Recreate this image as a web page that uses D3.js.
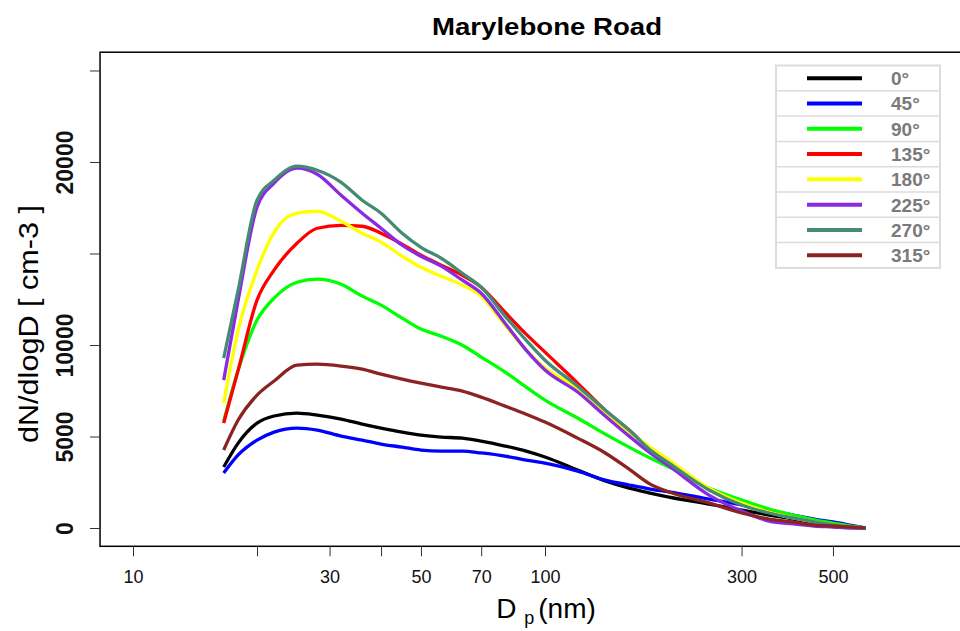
<!DOCTYPE html>
<html>
<head>
<meta charset="utf-8">
<script src="https://cdn.jsdelivr.net/npm/d3@7"></script>
<style>
body { margin: 0; background: #fff; }
svg { font-family: "Liberation Sans", Arial, sans-serif; }
</style>
</head>
<body>
<svg id="chart" width="960" height="631"></svg>
<script>
// particle diameter bins (nm)
const diameters = [16.6, 18, 20, 22, 25, 28, 32, 36, 40, 45, 50, 56, 63, 70, 80, 90, 100,
  120, 140, 160, 180, 200, 250, 300, 350, 400, 450, 500, 550, 600];

// dN/dlogD per wind direction
const dir0 = [3330, 4640, 5730, 6120, 6280, 6170, 5950, 5680, 5460, 5240, 5080, 4970, 4910, 4750,
  4480, 4200, 3880, 3170, 2570, 2180, 1910, 1690, 1310, 980, 710, 490, 270, 160, 55, 0];
const dir45 = [3000, 3990, 4800, 5240, 5460, 5350, 5020, 4800, 4590, 4420, 4260, 4200, 4200, 4100,
  3930, 3710, 3550, 3110, 2620, 2350, 2130, 1970, 1580, 1260, 930, 710, 490, 330, 160, 0];
const dir90 = [5840, 8630, 11360, 12560, 13430, 13600, 13320, 12670, 12180, 11470, 10870, 10480,
  9990, 9340, 8520, 7700, 6990, 6010, 5130, 4420, 3820, 3330, 2180, 1530, 1040, 710, 440, 270, 110, 0];
const dir135 = [5730, 8630, 12450, 14090, 15560, 16380, 16540, 16490, 16110, 15510, 14910, 14360,
  13810, 13160, 11790, 10590, 9610, 7920, 6440, 5350, 4310, 3600, 2130, 1310, 870, 550, 330, 160, 55, 0];
const dir180 = [6830, 10810, 14090, 16160, 17200, 17310, 16760, 16110, 15620, 14850, 14250, 13760,
  13270, 12670, 11080, 9720, 8740, 7640, 6330, 5240, 4420, 3710, 2180, 1370, 870, 550, 330, 160, 55, 0];
const dir225 = [8080, 12450, 17530, 18840, 19660, 19330, 18180, 17200, 16380, 15450, 14850, 14310,
  13540, 12830, 11190, 9720, 8630, 7430, 6120, 5020, 4100, 3390, 1800, 930, 380, 220, 110, 55, 0, 0];
const dir270 = [9280, 13000, 17910, 19000, 19770, 19550, 18890, 17910, 17200, 16110, 15340, 14740,
  13920, 13160, 11580, 10260, 9170, 7750, 6440, 5350, 4260, 3550, 2080, 1260, 820, 550, 330, 160, 55, 0];
const dir315 = [4260, 5900, 7260, 8030, 8900, 8950, 8850, 8680, 8410, 8140, 7920, 7700, 7480, 7150,
  6660, 6220, 5790, 4910, 4100, 3220, 2400, 1970, 1370, 820, 490, 330, 160, 110, 55, 0];

const seriesNames = ["0°", "45°", "90°", "135°", "180°", "225°", "270°", "315°"];
const seriesColors = ["#000000", "#0000ff", "#00ff00", "#ff0000", "#ffff00", "#8a2be2", "#458b74", "#8b2323"];
const seriesValues = [dir0, dir45, dir90, dir135, dir180, dir225, dir270, dir315];

const xTicks = [10, 20, 30, 40, 50, 70, 100, 300, 500];
const xTickLabels = ["10", "", "30", "", "50", "70", "100", "300", "500"];
const yTicks = [0, 5000, 10000, 15000, 20000, 25000];
const yTickLabels = ["0", "5000", "10000", "", "20000", ""];

const svg = d3.select("#chart");

// log x axis; xlim 10..1000 with 4% padding each side
const x = d3.scaleLog().domain([10, 1000]).range([133, 957]);
const y = d3.scaleLinear().domain([0, 25000]).range([528, 70.5]);

const boxLeft = x(Math.pow(10, 0.92)), boxRight = x(Math.pow(10, 3.08));
const boxTop = y(26000), boxBottom = y(-1000);

// curves
const line = d3.line()
  .x((d, i) => x(diameters[i]))
  .y(d => y(d))
  .curve(d3.curveMonotoneX);

svg.append("g").selectAll("path")
  .data(seriesValues)
  .enter()
  .append("path")
  .attr("d", d => line(d))
  .attr("fill", "none")
  .attr("stroke", (d, i) => seriesColors[i])
  .attr("stroke-width", 3.3)
  .attr("stroke-linejoin", "round");

// frame
svg.append("rect")
  .attr("x", boxLeft).attr("y", boxTop)
  .attr("width", boxRight - boxLeft).attr("height", boxBottom - boxTop)
  .attr("fill", "none").attr("stroke", "#000").attr("stroke-width", 1.5);

// x axis
const xAxis = d3.axisBottom(x)
  .tickValues(xTicks)
  .tickFormat((d, i) => xTickLabels[i])
  .tickSize(10)
  .tickSizeOuter(0)
  .tickPadding(14);
const gx = svg.append("g")
  .attr("transform", "translate(0," + boxBottom + ")")
  .call(xAxis);
gx.select(".domain").remove();
gx.selectAll("line").attr("stroke", "#333");
gx.selectAll("text").attr("font-size", 18).attr("fill", "#111")
  .attr("font-family", "'Liberation Sans Narrow', 'Liberation Sans', Arial, sans-serif");

// y axis
const yAxis = d3.axisLeft(y)
  .tickValues(yTicks)
  .tickFormat((d, i) => yTickLabels[i])
  .tickSize(10)
  .tickSizeOuter(0);
const gy = svg.append("g")
  .attr("transform", "translate(" + boxLeft + ",0)")
  .call(yAxis);
gy.select(".domain").attr("stroke", "#333");
gy.selectAll("line").attr("stroke", "#333");
gy.selectAll("text")
  .attr("x", null).attr("dy", null)
  .attr("text-anchor", "middle")
  .attr("transform", "translate(-27,0) rotate(-90)")
  .attr("font-size", 23).attr("font-weight", "bold").attr("fill", "#111");

// title
svg.append("text")
  .attr("x", 547).attr("y", 35)
  .attr("text-anchor", "middle")
  .attr("font-size", 24).attr("font-weight", "bold")
  .attr("textLength", 230).attr("lengthAdjust", "spacingAndGlyphs")
  .text("Marylebone Road");

// y title
svg.append("text")
  .attr("transform", "translate(38,324) rotate(-90)")
  .attr("text-anchor", "middle")
  .attr("font-size", 28)
  .attr("textLength", 238).attr("lengthAdjust", "spacingAndGlyphs")
  .text("dN/dlogD  [ cm-3 ]");

// x title
const xt = svg.append("text")
  .attr("x", 546).attr("y", 618)
  .attr("text-anchor", "middle")
  .attr("font-size", 28);
xt.append("tspan").text("D ");
xt.append("tspan").attr("font-size", 18).attr("dy", 6).text("p");
xt.append("tspan").attr("dy", -6).attr("dx", 4).text("(nm)");

// legend
const lgX = 776, lgY = 65.5, lgW = 164, rowH = 25.3;
const lg = svg.append("g");
lg.append("rect")
  .attr("x", lgX).attr("y", lgY)
  .attr("width", lgW).attr("height", rowH * seriesNames.length)
  .attr("fill", "#fff").attr("stroke", "#dcdcdc").attr("stroke-width", 2);
const rows = lg.selectAll("g.row")
  .data(seriesNames)
  .enter()
  .append("g")
  .attr("class", "row")
  .attr("transform", (d, i) => "translate(0," + (lgY + i * rowH) + ")");
rows.filter((d, i) => i > 0).append("line")
  .attr("x1", lgX).attr("x2", lgX + lgW)
  .attr("y1", 0).attr("y2", 0)
  .attr("stroke", "#dcdcdc").attr("stroke-width", 1.5);
rows.append("line")
  .attr("x1", 807).attr("x2", 862)
  .attr("y1", rowH / 2).attr("y2", rowH / 2)
  .attr("stroke", (d, i) => seriesColors[i])
  .attr("stroke-width", 4);
rows.append("text")
  .attr("x", 891).attr("y", rowH / 2 + 7)
  .attr("font-size", 19).attr("font-weight", "bold")
  .attr("fill", "#7a7a7a")
  .text(d => d);
</script>
</body>
</html>
